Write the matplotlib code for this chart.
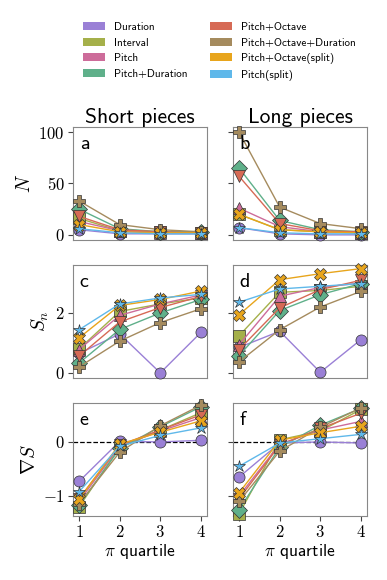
import numpy as np
import matplotlib
matplotlib.use("Agg")
import matplotlib.pyplot as plt
from matplotlib.patches import Patch
from matplotlib.ticker import FuncFormatter

plt.rcParams["mathtext.fontset"] = "cm"
plt.rcParams["font.family"] = ["cmss10", "DejaVu Sans"]
plt.rcParams["axes.unicode_minus"] = False

names = ["Duration", "Interval", "Pitch", "Pitch+Duration",
         "Pitch+Octave", "Pitch+Octave+Duration", "Pitch+Octave(split)", "Pitch(split)"]
colors = ["#9a80d6", "#a5b04a", "#cd6c9a", "#5fb08a",
          "#d66a55", "#a58b5e", "#e8a51c", "#5fb8ea"]
markers = ["o", "s", "^", "D", "v", "P", "X", "*"]
quartiles = [1, 2, 3, 4]

# N, short pieces
n_short = [[5, 1, 1, 1], [16, 4, 3, 2], [13, 4, 2, 2], [25, 6, 3, 3],
           [18, 5, 3, 2], [33, 10, 5, 3], [10, 3, 2, 2], [6, 2, 1, 1]]
# N, long pieces
n_long = [[7, 1, 0, 0], [20, 5, 3, 2], [26, 8, 3, 2], [65, 14, 5, 3],
          [57, 11, 4, 3], [100, 27, 11, 6], [20, 5, 3, 2], [7, 2, 1, 1]]
# S_n, short pieces
s_short = [[0.65, 1.3, 0.0, 1.35], [0.8, 2.05, 2.3, 2.5], [0.78, 1.92, 2.3, 2.6],
           [0.33, 1.45, 2.0, 2.45], [0.56, 1.7, 2.18, 2.55], [0.2, 1.06, 1.68, 2.14],
           [1.17, 2.25, 2.45, 2.73], [1.44, 2.3, 2.5, 2.62]]
# S_n, long pieces
s_long = [[0.85, 1.39, 0.02, 1.11], [1.24, 2.69, 2.75, 2.89], [0.94, 2.56, 2.85, 3.0],
          [0.58, 2.08, 2.61, 2.98], [0.78, 2.17, 2.78, 3.09], [0.37, 1.44, 2.2, 2.72],
          [1.94, 3.11, 3.31, 3.48], [2.36, 2.8, 2.89, 2.98]]
# grad S, short pieces
g_short = [[-0.73, 0.01, 0.0, 0.03], [-1.2, -0.1, 0.22, 0.54], [-1.1, -0.08, 0.2, 0.45],
           [-1.17, -0.12, 0.28, 0.65], [-1.05, -0.06, 0.22, 0.5], [-1.14, -0.19, 0.3, 0.68],
           [-1.06, -0.04, 0.18, 0.39], [-0.92, -0.08, 0.12, 0.26]]
# grad S, long pieces
g_long = [[-0.65, -0.02, 0.0, -0.02], [-1.33, 0.04, 0.2, 0.6], [-1.0, -0.04, 0.22, 0.38],
          [-1.25, -0.1, 0.31, 0.62], [-1.05, -0.06, 0.25, 0.53], [-1.1, -0.17, 0.27, 0.63],
          [-0.94, 0.03, 0.17, 0.29], [-0.45, -0.02, 0.06, 0.14]]

fig = plt.figure(figsize=(3.87, 5.8), dpi=100)
W, H = 387, 580
lefts = [73, 233]
width = 134
tops = [127, 265, 403]
height = 113

panels = [[n_short, n_long], [s_short, s_long], [g_short, g_long]]
ylims = [(-5, 105), (-0.17, 3.6), (-1.37, 0.72)]
yticks = [[0, 50, 100], [0, 2], [-1, 0]]
ylabels = [r"$N$", r"$S_n$", r"$\nabla S$"]
letters = [["a", "b"], ["c", "d"], ["e", "f"]]

math_fmt = FuncFormatter(lambda v, p: r"$%d$" % v)

for r in range(3):
    for c in range(2):
        ax = fig.add_axes([lefts[c] / W, 1 - (tops[r] + height) / H, width / W, height / H])
        data = panels[r][c]
        for i in range(len(names)):
            ax.plot(quartiles, data[i], color=colors[i], marker=markers[i], lw=1,
                    markersize=9 if markers[i] in ("*", "P", "X") else 8,
                    markeredgecolor="#333333", markeredgewidth=0.5, clip_on=False, zorder=3)
        if r == 2:
            ax.axhline(0, color="black", ls="--", lw=0.9, zorder=1)
        ax.set_xlim(0.85, 4.15)
        ax.set_ylim(*ylims[r])
        ax.set_yticks(yticks[r])
        ax.yaxis.set_major_formatter(math_fmt)
        for s in ax.spines.values():
            s.set_color("#888888")
        ax.tick_params(colors="#444444", labelcolor="black", labelsize=12, length=3.5, pad=2.5)
        if r == 2:
            ax.set_xticks(quartiles)
            ax.xaxis.set_major_formatter(math_fmt)
            ax.set_xlabel(r"$\pi$ quartile", fontsize=12.5, labelpad=1)
        else:
            ax.set_xticks([])
        if c == 0:
            ax.set_ylabel(ylabels[r], fontsize=14, labelpad=3)
        else:
            ax.set_yticklabels([])
        if r == 0:
            ax.set_title(["Short pieces", "Long pieces"][c], fontsize=15.5, pad=3)
        ax.text(0.05, 0.93, letters[r][c], transform=ax.transAxes, fontsize=14.5,
                va="top", ha="left", zorder=5)

handles = [Patch(facecolor=colors[i], edgecolor="none", label=names[i]) for i in range(len(names))]
fig.legend(handles=handles, ncol=2, loc="upper left", bbox_to_anchor=(83 / W, 1 - 22 / H),
           frameon=False, fontsize=8, handlelength=2.0, handleheight=0.75,
           handletextpad=0.8, columnspacing=2.0, labelspacing=0.5,
           borderpad=0, borderaxespad=0)

fig.savefig("out.png", dpi=100)
